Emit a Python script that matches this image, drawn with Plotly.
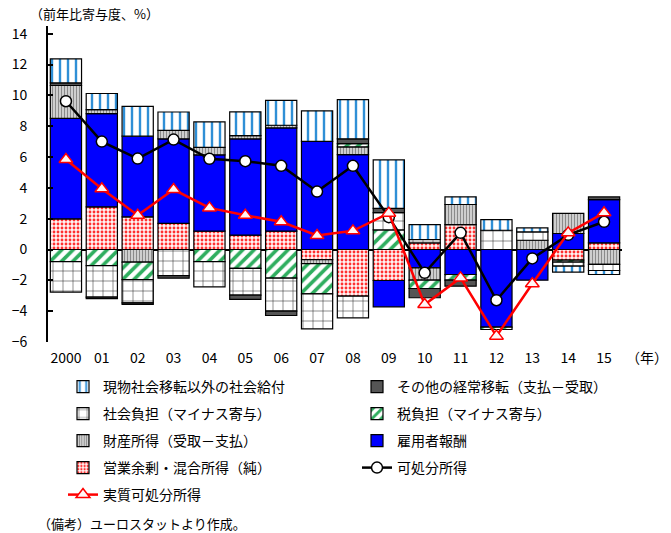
import plotly.graph_objects as go

# Contributions to year-on-year growth of disposable income (percentage points)
years = ["2000", "01", "02", "03", "04", "05", "06", "07",
         "08", "09", "10", "11", "12", "13", "14", "15"]

surplus = [1.99, 2.77, 2.12, 1.69, 1.19, 0.93, 1.19, -0.65,
           -3.03, -2.01, 0.43, 1.62, 0, 0, -0.69, 0.43]
compensation = [6.52, 6.05, 5.23, 5.49, 4.95, 6.25, 6.70, 7.02,
                6.16, -1.71, -1.19, -1.62, -5.04, -1.99, 1.04, 2.81]
property_income = [2.13, 0.26, -0.82, 0.55, 0.49, 0.21, 0.17, -0.26,
                   0.50, 0, -0.80, 1.30, 0, 0.60, 1.30, -0.97]
tax = [-0.78, -1.04, -1.13, 0, -0.78, -1.23, -1.86, -1.97,
       0.21, 1.27, -0.54, -0.37, -0.15, 0, -0.13, 0]
social_contrib = [-1.99, -2.05, -1.51, -1.69, -1.64, -1.73, -2.14, -2.27,
                  -1.40, 1.12, 0.22, 0, 1.25, 0.54, -0.26, -0.39]
other_transfers = [0.17, -0.10, -0.10, -0.17, 0, -0.28, -0.28, 0,
                   0.31, 0.28, -0.60, -0.39, 0, 0, 0, 0.17]
social_benefits = [1.56, 1.04, 1.94, 1.19, 1.65, 1.54, 1.62, 1.98,
                   2.55, 3.14, 0.97, 0.50, 0.69, 0.26, -0.39, -0.26]

disposable = [9.62, 7.00, 5.90, 7.13, 5.88, 5.73, 5.43, 3.76,
              5.43, 2.10, -1.51, 1.08, -3.29, -0.58, 0.95, 1.80]
real_disposable = [5.84, 3.94, 2.22, 3.89, 2.70, 2.22, 1.80, 0.91,
                   1.21, 2.36, -3.57, -1.84, -5.62, -2.22, 1.08, 2.38]

FONT = "Noto Sans CJK JP"
W, H = 671, 533

# legend slots: column left edges and row centres (pixels)
COL_X = [63, 357]
ROW_Y = [387, 414, 441, 468, 495]


def nz(vals):
    return [v if v != 0 else None for v in vals]


# (name, values, pattern, legend id)
bar_series = [
    ("営業余剰・混合所得（純）", surplus,
     dict(shape=".", fgcolor="#ff3030", bgcolor="#fff4f4", size=4, solidity=0.4), "legend7"),
    ("雇用者報酬", compensation, None, "legend6"),
    ("財産所得（受取－支払）", property_income,
     dict(shape="|", fgcolor="#8a8a8a", bgcolor="#dcdcdc", size=3, solidity=0.45), "legend5"),
    ("税負担（マイナス寄与）", tax,
     dict(shape="/", fgcolor="#2fae5f", bgcolor="#ffffff", size=8, solidity=0.45), "legend4"),
    ("社会負担（マイナス寄与）", social_contrib,
     dict(shape="+", fgcolor="#222222", bgcolor="#ffffff", size=10, solidity=0.1), "legend3"),
    ("その他の経常移転（支払－受取）", other_transfers, None, "legend2"),
    ("現物社会移転以外の社会給付", social_benefits,
     dict(shape="|", fgcolor="#2f8fd6", bgcolor="#ffffff", size=8, solidity=0.3), "legend"),
]
solid_colors = {"雇用者報酬": "#0000ff", "その他の経常移転（支払－受取）": "#555555"}

fig = go.Figure()
for name, vals, pat, leg in bar_series:
    marker = dict(line=dict(color="#000000", width=1.2))
    if pat is None:
        marker["color"] = solid_colors[name]
    else:
        marker["color"] = pat["bgcolor"]
        marker["pattern"] = dict(fillmode="replace", **pat)
    fig.add_trace(go.Bar(x=years, y=nz(vals), name=name, marker=marker,
                         legend=leg))

fig.add_trace(go.Scatter(
    x=years, y=disposable, name="可処分所得", mode="lines+markers",
    line=dict(color="#000000", width=2.5),
    marker=dict(symbol="circle", size=11, color="#ffffff",
                line=dict(color="#000000", width=1.5)),
    legend="legend8"))
fig.add_trace(go.Scatter(
    x=years, y=real_disposable, name="実質可処分所得", mode="lines+markers",
    line=dict(color="#ff0000", width=2.5),
    marker=dict(symbol="triangle-up", size=12, color="#fff5f5",
                line=dict(color="#ff0000", width=1.5)),
    legend="legend9"))

plot_l, plot_r, plot_t, plot_b = 48, 49, 26, 191
plot_w, plot_h = W - plot_l - plot_r, H - plot_t - plot_b


def legend_slot(col, row):
    return dict(orientation="h", xref="container", yref="container",
                x=COL_X[col] / W, y=1 - ROW_Y[row] / H,
                xanchor="left", yanchor="middle", traceorder="normal",
                font=dict(family=FONT, size=14, color="#000000"),
                bgcolor="rgba(0,0,0,0)", borderwidth=0,
                itemclick=False, itemdoubleclick=False)


# legend layout: two columns, five rows
slots = {
    "legend": (0, 0), "legend2": (1, 0),
    "legend3": (0, 1), "legend4": (1, 1),
    "legend5": (0, 2), "legend6": (1, 2),
    "legend7": (0, 3), "legend8": (1, 3),
    "legend9": (0, 4),
}
legend_layout = {k: legend_slot(*v) for k, v in slots.items()}

fig.update_layout(
    width=W, height=H,
    margin=dict(l=plot_l, r=plot_r, t=plot_t, b=plot_b, autoexpand=False),
    paper_bgcolor="#ffffff", plot_bgcolor="#ffffff",
    barmode="relative", bargap=0.13,
    font=dict(family=FONT, size=14, color="#000000"),
    showlegend=True,
    xaxis=dict(type="category", range=[-0.5, len(years) - 0.5],
               showline=False, ticks="", showgrid=False,
               tickfont=dict(family=FONT, size=14), ticklabelstandoff=6),
    yaxis=dict(range=[-6, 14.5], tickvals=list(range(-6, 15, 2)),
               showline=True, linecolor="#000000", linewidth=2,
               ticks="inside", ticklen=5, tickwidth=1.5, tickcolor="#000000",
               showgrid=False, zeroline=True, zerolinecolor="#000000",
               zerolinewidth=2, tickfont=dict(family=FONT, size=14),
               ticklabelstandoff=16),
    **legend_layout,
)


def px_x(p):
    return (p - plot_l) / plot_w


def px_y(p):
    return (H - plot_b - p) / plot_h


fig.add_annotation(text="（前年比寄与度、%）", xref="paper", yref="paper",
                   x=px_x(28), y=px_y(13), xanchor="left", yanchor="middle",
                   showarrow=False, font=dict(family=FONT, size=13))
fig.add_annotation(text="（年）", xref="paper", yref="paper",
                   x=px_x(624), y=px_y(357), xanchor="left", yanchor="middle",
                   showarrow=False, font=dict(family=FONT, size=14))
fig.add_annotation(text="（備考）ユーロスタットより作成。", xref="paper",
                   yref="paper", x=px_x(36), y=px_y(523), xanchor="left",
                   yanchor="middle", showarrow=False,
                   font=dict(family=FONT, size=13))

fig.write_html("out.html")
